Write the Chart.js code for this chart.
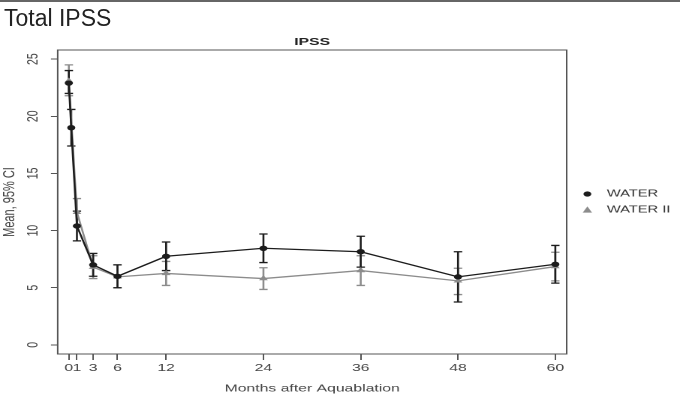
<!DOCTYPE html>
<html>
<head>
<meta charset="utf-8">
<script src="https://cdn.jsdelivr.net/npm/chart.js@4.4.1/dist/chart.umd.min.js"></script>
<style>
  html, body { margin: 0; padding: 0; background: #fff; }
  #wrap { position: relative; width: 680px; height: 411px; overflow: hidden; }
  #chart { position: absolute; left: 0; top: 0; }
  #topRule { position: absolute; left: 0; top: 0; width: 680px; height: 2px; background: #666; }
  #slideTitle { position: absolute; left: 4px; top: 5px; line-height: 23px;
                font: 23px 'Liberation Sans Narrow', 'Arial Narrow', sans-serif; color: #222; }
</style>
</head>
<body>
<div id="wrap">
  <!-- the original figure is stretched sideways, so the canvas is drawn narrow and widened by css -->
  <canvas id="chart" width="453" height="411" style="width:680px;height:411px"></canvas>
  <div id="topRule"></div>
  <div id="slideTitle">Total IPSS</div>
</div>
<script>
  // ====== DATA ======
  const monthsWater  = [0, 0.3, 1, 3, 6, 12, 24, 36, 48, 60];
  const meanWater    = [22.9, 19.0, 10.4, 7.0, 6.0, 7.75, 8.45, 8.15, 5.95, 7.05];
  const lowerWater   = [22.0, 17.4, 9.1, 6.0, 5.0, 6.5, 7.2, 6.8, 3.75, 5.4];
  const upperWater   = [24.0, 20.6, 11.7, 8.0, 7.0, 9.0, 9.7, 9.5, 8.15, 8.7];

  const monthsWater2 = [0, 1, 3, 6, 12, 24, 36, 48, 60];
  const meanWater2   = [23.1, 11.6, 6.8, 5.95, 6.25, 5.8, 6.5, 5.6, 6.85];
  const lowerWater2  = [21.8, 10.4, 5.8, 5.0, 5.2, 4.85, 5.2, 4.4, 5.6];
  const upperWater2  = [24.5, 12.8, 7.8, 7.0, 7.3, 6.75, 7.8, 6.7, 8.1];

  const xTickValues = [0, 1, 3, 6, 12, 24, 36, 48, 60];
  const yTickValues = [0, 5, 10, 15, 20, 25];

  const FONT = "'Liberation Sans', Arial, Helvetica, sans-serif";
  const BLACK = '#1c1c1c';
  const GREY = '#8c8c8c';

  const toPoints = (xs, ys) => xs.map((x, i) => ({ x, y: ys[i] }));

  // ====== ERROR BARS ======
  const errorBars = {
    id: 'errorBars',
    beforeDatasetsDraw(chart) {
      const { ctx, scales: { x, y } } = chart;
      const cap = 2.8;
      for (let d = chart.data.datasets.length - 1; d >= 0; d--) {
        const ds = chart.data.datasets[d];
        ctx.save();
        ctx.strokeStyle = ds.borderColor;
        ctx.lineWidth = 1.3;
        ds.data.forEach((p, i) => {
          const px = x.getPixelForValue(p.x);
          const lo = y.getPixelForValue(ds.lower[i]);
          const hi = y.getPixelForValue(ds.upper[i]);
          ctx.beginPath();
          ctx.moveTo(px, lo); ctx.lineTo(px, hi);
          ctx.moveTo(px - cap, lo); ctx.lineTo(px + cap, lo);
          ctx.moveTo(px - cap, hi); ctx.lineTo(px + cap, hi);
          ctx.stroke();
        });
        ctx.restore();
      }
    }
  };

  // ====== BOX, Y LABELS, TITLE, LEGEND ======
  const decor = {
    id: 'decor',
    afterDraw(chart) {
      const { ctx, chartArea: a, scales: { y } } = chart;
      ctx.save();
      ctx.strokeStyle = '#555';
      ctx.lineWidth = 1;
      ctx.strokeRect(a.left, a.top, a.right - a.left, a.bottom - a.top);

      ctx.fillStyle = '#444';
      ctx.font = `10.5px ${FONT}`;
      ctx.textAlign = 'center';
      ctx.textBaseline = 'middle';
      yTickValues.forEach(v => {
        ctx.save();
        ctx.translate(22, y.getPixelForValue(v));
        ctx.rotate(-Math.PI / 2);
        ctx.fillText(String(v), 0, 0);
        ctx.restore();
      });

      ctx.fillStyle = '#222';
      ctx.font = `bold 10.5px ${FONT}`;
      ctx.fillText('IPSS', (a.left + a.right) / 2, 42);

      ctx.font = `9.8px ${FONT}`;
      ctx.textAlign = 'left';
      chart.data.datasets.forEach((ds, i) => {
        const ly = 194 + i * 16;
        ctx.fillStyle = ds.borderColor;
        ctx.beginPath();
        if (ds.pointStyle === 'triangle') {
          ctx.moveTo(391.3, ly - 3.6); ctx.lineTo(394.4, ly + 2.6); ctx.lineTo(388.2, ly + 2.6);
        } else {
          ctx.arc(391.3, ly, 2.6, 0, Math.PI * 2);
        }
        ctx.fill();
        ctx.fillStyle = '#333';
        ctx.fillText(ds.label, 404.2, ly);
      });
      ctx.restore();
    }
  };

  new Chart(document.getElementById('chart'), {
    type: 'line',
    data: {
      datasets: [
        {
          label: 'WATER',
          data: toPoints(monthsWater, meanWater),
          lower: lowerWater, upper: upperWater,
          borderColor: BLACK, backgroundColor: BLACK,
          borderWidth: 1.3, pointStyle: 'circle', pointRadius: 2.7, pointBorderWidth: 0,
          tension: 0
        },
        {
          label: 'WATER II',
          data: toPoints(monthsWater2, meanWater2),
          lower: lowerWater2, upper: upperWater2,
          borderColor: GREY, backgroundColor: GREY,
          borderWidth: 1.3, pointStyle: 'triangle', pointRadius: 3.4, pointBorderWidth: 0,
          tension: 0
        }
      ]
    },
    options: {
      responsive: false,
      devicePixelRatio: 2,
      animation: false,
      events: [],
      layout: { padding: { top: 50, right: 75.5, left: 0, bottom: 0 } },
      plugins: { legend: { display: false }, tooltip: { enabled: false } },
      scales: {
        x: {
          type: 'linear', min: -1.37, max: 61.4,
          afterBuildTicks: s => { s.ticks = xTickValues.map(v => ({ value: v })); },
          afterFit: s => { s.height = 57; },
          border: { display: false },
          grid: { drawOnChartArea: false, drawTicks: true, tickLength: 6, color: '#555', lineWidth: 1 },
          ticks: { autoSkip: false, maxRotation: 0, minRotation: 0, padding: 2, color: '#444',
                   font: { family: FONT, size: 10.5 } },
          title: { display: true, text: 'Months after Aquablation', color: '#444',
                   font: { family: FONT, size: 10.5 }, padding: { top: 0, bottom: 16 } }
        },
        y: {
          type: 'linear', min: -0.8, max: 25.8,
          afterBuildTicks: s => { s.ticks = yTickValues.map(v => ({ value: v })); },
          afterFit: s => { s.width = 38.44; },
          border: { display: false },
          grid: { drawOnChartArea: false, drawTicks: true, tickLength: 4.5, color: '#555', lineWidth: 1 },
          ticks: { display: false },
          title: { display: true, text: 'Mean, 95% CI', color: '#444',
                   font: { family: FONT, size: 11 }, padding: { top: 0, bottom: 0 } }
        }
      }
    },
    plugins: [errorBars, decor]
  });
</script>
</body>
</html>
